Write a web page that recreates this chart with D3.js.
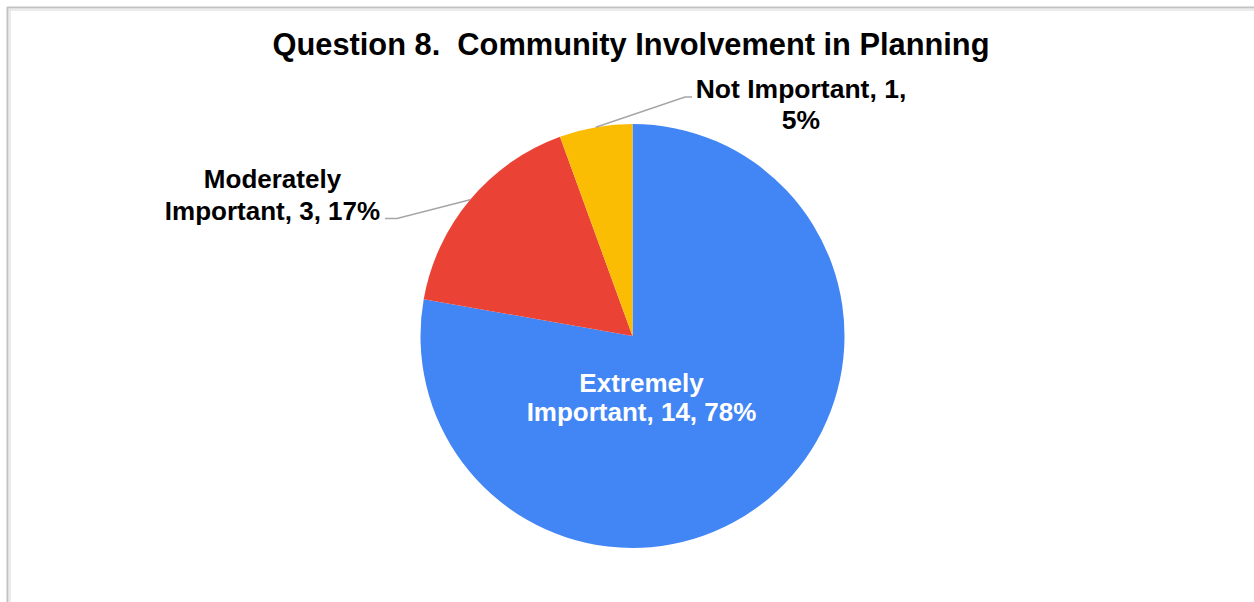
<!DOCTYPE html>
<html>
<head>
<meta charset="utf-8">
<script src="https://cdn.jsdelivr.net/npm/d3@7"></script>
<style>
  html, body { margin: 0; padding: 0; background: #ffffff; }
  svg { display: block; }
  text { font-family: "Liberation Sans", Arial, Helvetica, sans-serif; font-weight: bold; }
</style>
</head>
<body>
<svg id="chart" width="1254" height="602"></svg>
<script>
// ---- data ----
const title = "Question 8.\u00a0\u00a0Community Involvement in Planning";
const categories = ["Extremely Important", "Moderately Important", "Not Important"];
const counts = [14, 3, 1];
const percents = ["78%", "17%", "5%"];
const labelLines = [
  ["Extremely", "Important, 14, 78%"],
  ["Moderately", "Important, 3, 17%"],
  ["Not Important, 1,", "5%"]
];
const colors = ["#4285F4", "#EA4335", "#FBBC04"];

// ---- layout ----
const W = 1254, H = 602;
const cx = 632.5, cy = 336, R = 212;
const svg = d3.select("#chart");

// frame
const frame = svg.append("g");
frame.append("line").attr("x1", 7).attr("x2", W).attr("y1", 7.5).attr("y2", 7.5)
  .attr("stroke", "#c2c2c2").attr("stroke-width", 2);
frame.append("line").attr("x1", 9).attr("x2", W).attr("y1", 10).attr("y2", 10)
  .attr("stroke", "#e4e4e4").attr("stroke-width", 1.5);
frame.append("line").attr("x1", 7.5).attr("x2", 7.5).attr("y1", 7).attr("y2", H)
  .attr("stroke", "#c2c2c2").attr("stroke-width", 2);
frame.append("line").attr("x1", 10).attr("x2", 10).attr("y1", 9).attr("y2", H)
  .attr("stroke", "#e4e4e4").attr("stroke-width", 1.5);

// title
svg.append("text")
  .attr("x", 631).attr("y", 54.5)
  .attr("text-anchor", "middle")
  .attr("font-size", 30.8)
  .attr("fill", "#000")
  .text(title);

// pie
const data = categories.map((c, i) => ({ cat: c, value: counts[i], pct: percents[i], lines: labelLines[i], color: colors[i] }));
const pie = d3.pie().sort(null).value(d => d.value).startAngle(0).endAngle(2 * Math.PI);
const arcs = pie(data);
const arc = d3.arc().innerRadius(0).outerRadius(R);
const edgeArc = d3.arc().innerRadius(R).outerRadius(R);

const g = svg.append("g").attr("transform", `translate(${cx},${cy})`);
g.selectAll("path.slice").data(arcs).join("path")
  .attr("class", "slice")
  .attr("d", arc)
  .attr("fill", d => d.data.color);

// inside label for the big slice
const inside = svg.append("text")
  .attr("text-anchor", "middle")
  .attr("font-size", 26)
  .attr("fill", "#ffffff");
inside.selectAll("tspan").data(arcs[0].data.lines).join("tspan")
  .attr("x", cx + 9)
  .attr("y", (d, i) => cy + 56 + i * 29)
  .text(d => d);

// outside labels with leader lines
const outside = [
  { idx: 1, elbow: [397, 218.5], end: [385, 218.5], tx: 272.5, ty: 187.5, lh: 32, fs: 26 },
  { idx: 2, elbow: [685, 97], end: [692, 97], tx: 801, ty: 97.5, lh: 31, fs: 26.5 }
];
outside.forEach(o => {
  const a = arcs[o.idx];
  const p = edgeArc.centroid(a);
  const start = [cx + p[0], cy + p[1]];
  svg.append("polyline")
    .attr("points", [start, o.elbow, o.end].map(q => q.join(",")).join(" "))
    .attr("fill", "none")
    .attr("stroke", "#a6a6a6")
    .attr("stroke-width", 1.6);
  const t = svg.append("text")
    .attr("text-anchor", "middle")
    .attr("font-size", o.fs)
    .attr("fill", "#000");
  t.selectAll("tspan").data(a.data.lines).join("tspan")
    .attr("x", o.tx)
    .attr("y", (d, i) => o.ty + i * o.lh)
    .text(d => d);
});
</script>
</body>
</html>
